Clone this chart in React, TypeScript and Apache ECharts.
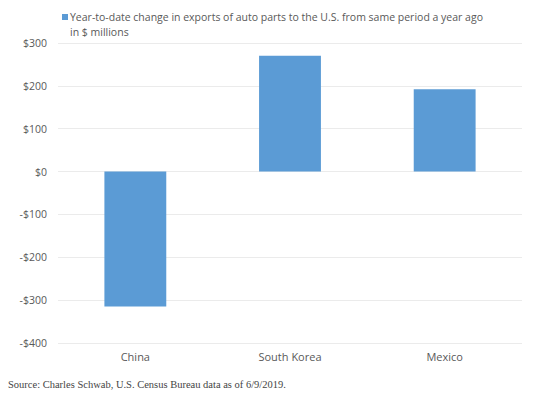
import React, { useEffect, useRef } from "react";
import * as echarts from "echarts";

const categories = ["China", "South Korea", "Mexico"];
const values = [-315, 270, 192];
const seriesName = "Year-to-date change in exports of auto parts to the U.S. from same period a year ago";
const seriesNameLine2 = "in $ millions";
const sourceText = "Source: Charles Schwab, U.S. Census Bureau data as of 6/9/2019.";

export default function App() {
  const ref = useRef<HTMLDivElement>(null);
  useEffect(() => {
    const chart = echarts.init(ref.current!, null, { renderer: "svg" });
    chart.setOption({
      animation: false,
      backgroundColor: "#fff",
      grid: { left: 58, right: 14, top: 43, bottom: 55 },
      xAxis: {
        type: "category",
        data: categories,
        axisLine: { show: false },
        axisTick: { show: false },
        axisLabel: { color: "#595959", fontSize: 11, fontFamily: "Open Sans", margin: 8 },
      },
      yAxis: {
        type: "value",
        min: -400,
        max: 300,
        interval: 100,
        axisLabel: {
          color: "#595959",
          fontSize: 10.5,
          fontFamily: "Open Sans",
          margin: 11,
          formatter: (v: number) => (v < 0 ? "-$" + Math.abs(v) : "$" + v),
        },
        splitLine: { lineStyle: { color: "#ebebeb" } },
      },
      series: [
        {
          name: seriesName,
          type: "bar",
          data: values,
          barWidth: "40%",
          itemStyle: { color: "#5b9bd5" },
        },
      ],
      graphic: [
        { type: "rect", left: 62, top: 14, shape: { width: 6, height: 6 }, style: { fill: "#5b9bd5" } },
        {
          type: "text",
          left: 70,
          top: 9,
          style: {
            text: seriesName + "\n" + seriesNameLine2,
            fill: "#595959",
            fontSize: 10.5,
            fontFamily: "Open Sans",
            lineHeight: 15,
          },
        },
        {
          type: "text",
          left: 8,
          top: 379,
          style: {
            text: sourceText,
            fill: "#444",
            fontSize: 10.5,
            fontFamily: "Liberation Serif",
          },
        },
      ],
    });
    return () => chart.dispose();
  }, []);
  return <div ref={ref} style={{ width: 536, height: 398, position: "absolute", left: 0, top: 0 }} />;
}
